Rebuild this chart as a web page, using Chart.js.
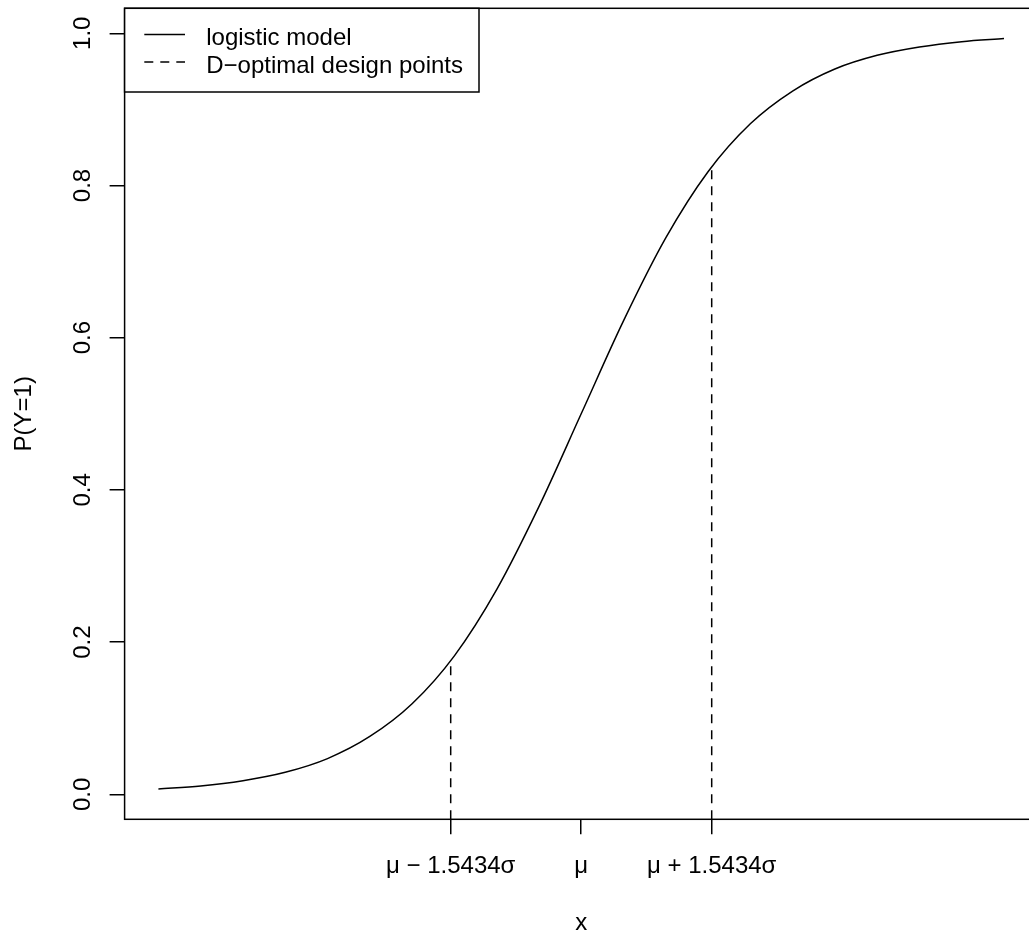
<!DOCTYPE html>
<html>
<head>
<meta charset="utf-8">
<title>Logistic model with D-optimal design points</title>
<script src="https://cdn.jsdelivr.net/npm/chart.js@4.4.1/dist/chart.umd.min.js"></script>
<style>
  html, body { margin: 0; padding: 0; background: #fff; overflow: hidden; }
  #wrap { width: 1029px; height: 938px; overflow: hidden; }
  canvas { display: block; }
</style>
</head>
<body>
<div id="wrap"><canvas id="logisticChart" width="1040" height="938"></canvas></div>
<script>
// x is measured in units of sigma, centred on mu
const curveX = [-5, -4.5, -4, -3.5, -3, -2.5, -2, -1.5, -1, -0.5, 0, 0.5, 1, 1.5, 2, 2.5, 3, 3.5, 4, 4.5, 5];
const curveP = [0.007, 0.011, 0.018, 0.029, 0.047, 0.076, 0.119, 0.182, 0.269, 0.378, 0.500,
                0.622, 0.731, 0.818, 0.881, 0.924, 0.953, 0.971, 0.982, 0.989, 0.993];

// D-optimal design points and the curve height there
const designX = [-1.5434, 1.5434];
const designP = [0.176, 0.824];

const xTicks = [-1.5434, 0, 1.5434];
const xTickLabels = ['μ − 1.5434σ', 'μ', 'μ + 1.5434σ'];
const yTicks = [0, 0.2, 0.4, 0.6, 0.8, 1.0];
const yTickLabels = ['0.0', '0.2', '0.4', '0.6', '0.8', '1.0'];

const xRange = [-5.4, 5.4];
const yRange = [-0.0328, 1.0328];

const legendLabels = ['logistic model', 'D−optimal design points'];

const FONT = '"Liberation Sans", Arial, Helvetica, sans-serif';

// box, rotated y labels and the legend, drawn the way base R does it
const rFrame = {
    id: 'rFrame',
    afterDraw(chart) {
        const ctx = chart.ctx;
        const a = chart.chartArea;
        const y = chart.scales.y;
        ctx.save();
        ctx.strokeStyle = '#000';
        ctx.lineWidth = 1.5;
        ctx.strokeRect(a.left, a.top, a.right - a.left, a.bottom - a.top);

        // y tick labels parallel to the axis
        ctx.fillStyle = '#000';
        ctx.font = '24px ' + FONT;
        ctx.textAlign = 'center';
        ctx.textBaseline = 'alphabetic';
        yTicks.forEach((v, i) => {
            ctx.save();
            ctx.translate(a.left - 34.6, y.getPixelForValue(v));
            ctx.rotate(-Math.PI / 2);
            ctx.fillText(yTickLabels[i], 0, 0);
            ctx.restore();
        });

        // legend in the top left corner
        const lx = a.left, ly = a.top;
        ctx.fillStyle = '#fff';
        ctx.fillRect(lx, ly, 354.4, 83.7);
        ctx.strokeRect(lx, ly, 354.4, 83.7);
        const rows = [ly + 26.2, ly + 53.8];
        const dashes = [[], [9, 7]];
        rows.forEach((ry, i) => {
            ctx.setLineDash(dashes[i]);
            ctx.beginPath();
            ctx.moveTo(lx + 19.7, ry);
            ctx.lineTo(lx + 60.4, ry);
            ctx.stroke();
            ctx.setLineDash([]);
            ctx.fillStyle = '#000';
            ctx.textAlign = 'left';
            ctx.fillText(legendLabels[i], lx + 81.6, ry + 10.8);
        });
        ctx.restore();
    }
};

const tickGrid = {
    drawOnChartArea: false,
    drawTicks: true,
    tickLength: 15,
    color: '#000',
    lineWidth: 1.5
};

new Chart(document.getElementById('logisticChart'), {
    type: 'line',
    data: {
        datasets: [
            {
                label: legendLabels[0],
                data: curveX.map((x, i) => ({ x: x, y: curveP[i] })),
                borderColor: '#000',
                borderWidth: 1.5,
                pointRadius: 0,
                cubicInterpolationMode: 'monotone',
                fill: false
            },
            ...designX.map((x, i) => ({
                label: legendLabels[1],
                data: [{ x: x, y: yRange[0] }, { x: x, y: designP[i] }],
                borderColor: '#000',
                borderWidth: 1.5,
                borderDash: [9, 7],
                pointRadius: 0,
                fill: false
            }))
        ]
    },
    options: {
        responsive: false,
        animation: false,
        devicePixelRatio: 1,
        layout: { padding: { left: 0, top: 8.3, right: 2.2, bottom: 0 } },
        plugins: {
            legend: { display: false },
            tooltip: { enabled: false }
        },
        scales: {
            x: {
                type: 'linear',
                min: xRange[0],
                max: xRange[1],
                afterBuildTicks: s => { s.ticks = xTicks.map(v => ({ value: v })); },
                afterFit: s => { s.height = 118.7; },
                grid: tickGrid,
                border: { display: false },
                ticks: {
                    autoSkip: false,
                    maxRotation: 0,
                    padding: 18,
                    color: '#000',
                    font: { family: FONT, size: 24 },
                    callback: v => xTickLabels[xTicks.indexOf(v)]
                },
                title: {
                    display: true,
                    text: 'x',
                    color: '#000',
                    font: { family: FONT, size: 24 },
                    padding: { top: 0, bottom: 0 }
                }
            },
            y: {
                type: 'linear',
                min: yRange[0],
                max: yRange[1],
                afterBuildTicks: s => { s.ticks = yTicks.map(v => ({ value: v })); },
                afterFit: s => { s.width = 124.6; },
                grid: tickGrid,
                border: { display: false },
                // labels are drawn rotated by rFrame
                ticks: { display: false },
                title: {
                    display: true,
                    text: 'P(Y=1)',
                    color: '#000',
                    font: { family: FONT, size: 24 },
                    padding: { top: 9.8, bottom: 0 }
                }
            }
        }
    },
    plugins: [rFrame]
});
</script>
</body>
</html>
